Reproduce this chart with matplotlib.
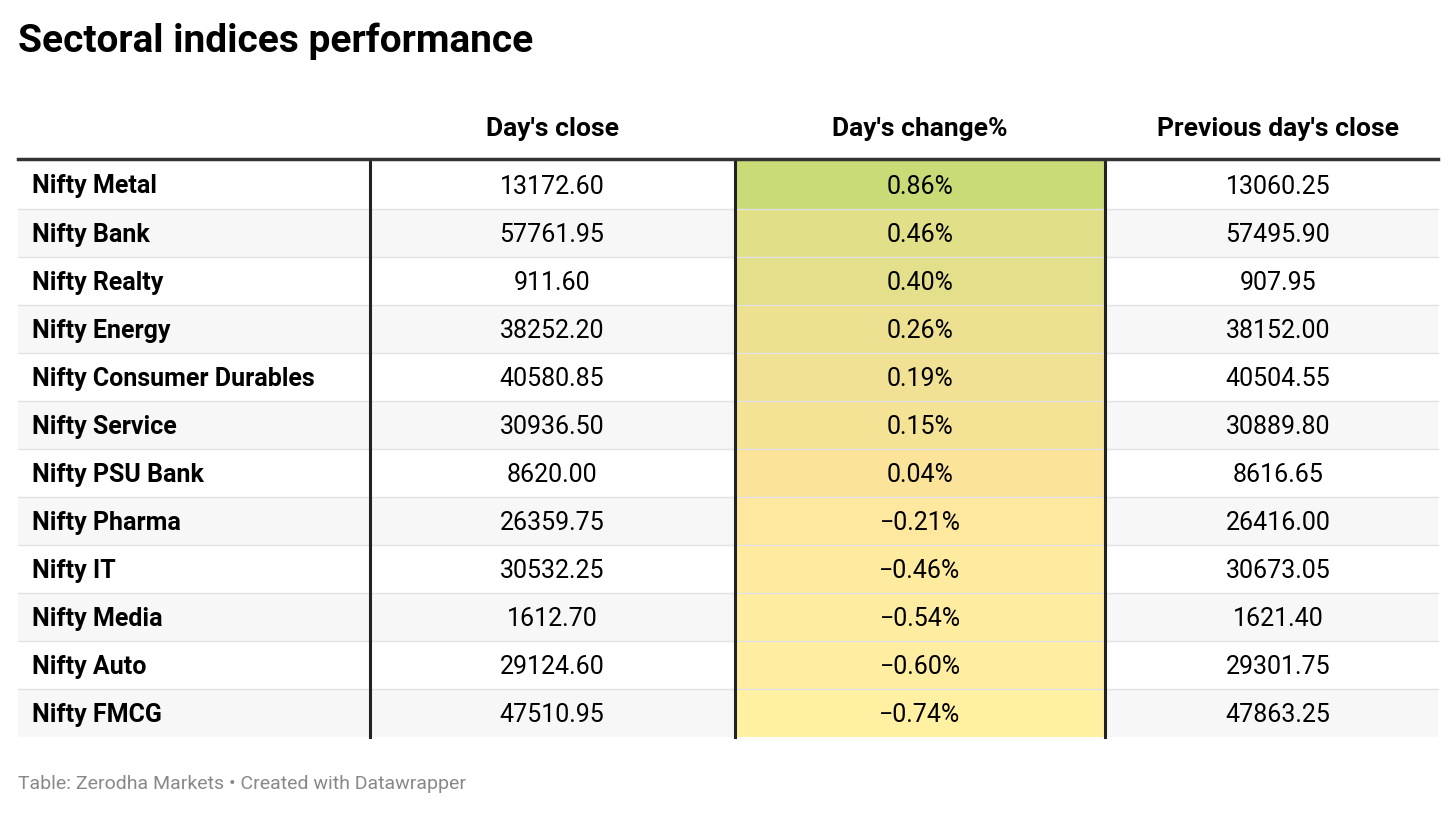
import matplotlib.pyplot as plt
import numpy as np
from matplotlib.colors import LinearSegmentedColormap, TwoSlopeNorm

plt.rcParams['font.family'] = ['Roboto', 'DejaVu Sans']

title = "Sectoral indices performance"
headers = ["Day's close", "Day's change%", "Previous day's close"]
names = ["Nifty Metal", "Nifty Bank", "Nifty Realty", "Nifty Energy",
         "Nifty Consumer Durables", "Nifty Service", "Nifty PSU Bank",
         "Nifty Pharma", "Nifty IT", "Nifty Media", "Nifty Auto", "Nifty FMCG"]
day_close = [13172.60, 57761.95, 911.60, 38252.20, 40580.85, 30936.50,
             8620.00, 26359.75, 30532.25, 1612.70, 29124.60, 47510.95]
change = [0.86, 0.46, 0.40, 0.26, 0.19, 0.15, 0.04, -0.21, -0.46, -0.54, -0.60, -0.74]
prev_close = [13060.25, 57495.90, 907.95, 38152.00, 40504.55, 30889.80,
              8616.65, 26416.00, 30673.05, 1621.40, 29301.75, 47863.25]
footer = "Table: Zerodha Markets \u2022 Created with Datawrapper"

W, H = 1456, 813
fig = plt.figure(figsize=(W / 100, H / 100), dpi=100)
ax = fig.add_axes([0, 0, 1, 1])
ax.set_xlim(0, W)
ax.set_ylim(H, 0)
ax.axis('off')

cmap = LinearSegmentedColormap.from_list('chg', ['#fff0a2', '#fde39c', '#c8db76'])
norm = TwoSlopeNorm(vcenter=0, vmin=min(change), vmax=max(change))

left, right = 18, 1438
col_edges = [370, 735, 1105]
centers = [552, 920, 1278]
top, rh = 161, 48
fs = 18

ax.text(18, 41, title, fontsize=28, fontweight='bold', va='center', ha='left')
for cx, h in zip(centers, headers):
    ax.text(cx, 129, h, fontsize=19, fontweight='bold', va='center', ha='center')

for i, name in enumerate(names):
    y0 = top + i * rh
    if i % 2 == 1:
        ax.add_patch(plt.Rectangle((left, y0), right - left, rh, color='#f7f7f7', lw=0))
    ax.add_patch(plt.Rectangle((col_edges[1], y0), col_edges[2] - col_edges[1], rh,
                               color=cmap(norm(change[i])), lw=0))
    if i > 0:
        ax.plot([left, right], [y0, y0], color='#e2e2e2', lw=1)
    yc = y0 + rh / 2 + 1.5
    ax.text(32, yc, name, fontsize=fs, fontweight='bold', va='center', ha='left')
    ax.text(centers[0], yc, f"{day_close[i]:.2f}", fontsize=fs, va='center', ha='center')
    ax.text(centers[1], yc, f"{change[i]:.2f}%".replace('-', '\u2212'), fontsize=fs,
            va='center', ha='center')
    ax.text(centers[2], yc, f"{prev_close[i]:.2f}", fontsize=fs, va='center', ha='center')

bottom = top + len(names) * rh
for x in col_edges:
    ax.plot([x, x], [top, bottom], color='#222222', lw=2.2)
ax.plot([left, right], [159, 159], color='#333333', lw=2.5)

ax.text(18, 784, footer, fontsize=14, color='#888888', va='center', ha='left')

fig.savefig('out.png', dpi=100)
